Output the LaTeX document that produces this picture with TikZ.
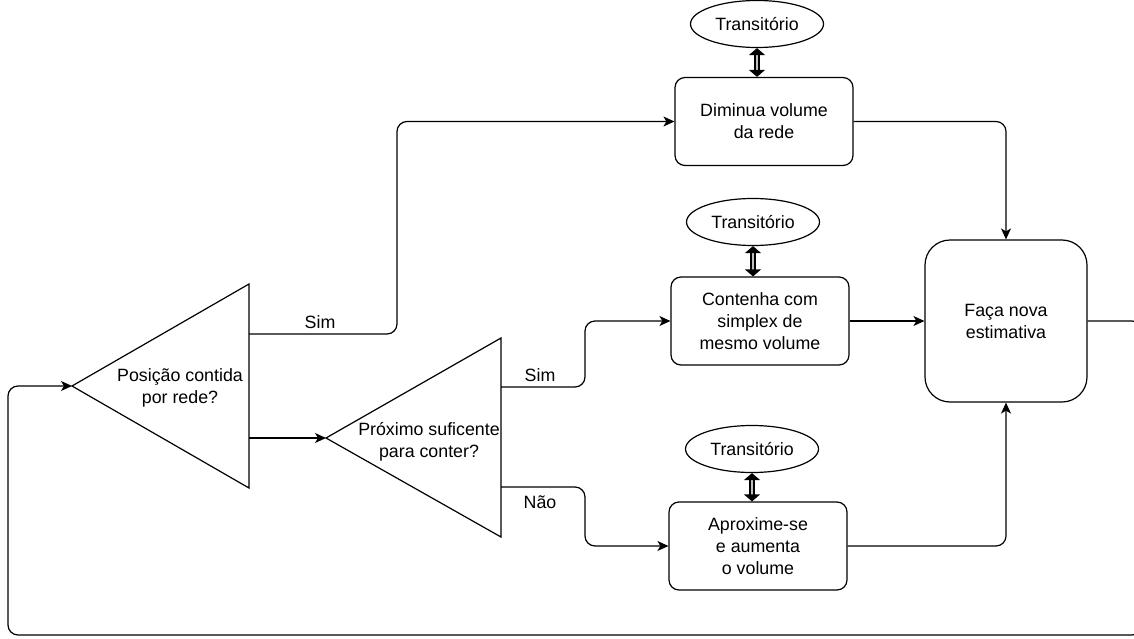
\documentclass[tikz,border=0pt]{standalone}
\usepackage{fontspec}
\setmainfont{Liberation Sans}
\usetikzlibrary{arrows.meta,shapes.geometric}

\tikzset{
	box/.style={draw, rounded corners=10, line width=1.2pt, minimum width=178, minimum height=88, align=center},
	trans/.style={draw, ellipse, line width=1.2pt, minimum width=133, minimum height=47, inner sep=0pt},
	shp/.style={line width=1.2pt, line join=miter},
	arr/.style={line width=1.2pt, rounded corners=10, -{Stealth[length=11pt, width=10pt, inset=3pt]}},
	dbl/.style={line width=1.3pt, double distance=2.6pt, double=gray!50, {Triangle[length=7pt, width=16pt]}-{Triangle[length=7pt, width=16pt]}}
}

\begin{document}
\begin{tikzpicture}[x=1pt, y=-1pt]
		\tikzstyle{every node}=[font=\fontsize{17.8}{22}\selectfont]
		\useasboundingbox (0,0) rectangle (1134,639);

		% Boxes on the right
		\node[box] (dim) at (764,121.5) {Diminua volume\\da rede};
		\node[box] (cont) at (760,321) {Contenha com\\simplex de\\mesmo volume};
		\node[box] (apr) at (758,546) {Aproxime-se\\e aumenta\\o volume};
		\node[box, rounded corners=25, minimum width=162, minimum height=162] (nova) at (1006,321) {Faça nova\\estimativa};

		% Transitorio ellipses
		\node[trans] (t1) at (757,24) {Transitório};
		\node[trans] (t2) at (753,222) {Transitório};
		\node[trans] (t3) at (752,449) {Transitório};
		\draw[dbl] (t1.south) -- (t1.south |- dim.north);
		\draw[dbl] (t2.south) -- (t2.south |- cont.north);
		\draw[dbl] (t3.south) -- (t3.south |- apr.north);

		% Triangles (decisions)
		\coordinate (q1tip) at (72,386);
		\coordinate (q1yes) at (249,334);
		\coordinate (q1no) at (249,438);
		\draw[shp] (q1tip) -- (249,284) -- (249,488) -- cycle;
		\node[align=center] (q1) at (180,388) {Posição contida\\por rede?};

		\coordinate (q2tip) at (326,438);
		\coordinate (q2yes) at (501,387);
		\coordinate (q2no) at (501,487);
		\draw[shp] (q2tip) -- (501,338) -- (501,537) -- cycle;
		\node[align=center] (q2) at (429,442) {Próximo suficente\\para conter?};

		% -----------------------------------------------------
		\draw[arr] (q1yes) -- (397,334) |- (dim.west);
		\node (sim1) at (320,322) {Sim};
		\draw[arr] (q1no) -- (q2tip);

		\draw[arr] (q2yes) -- (585,387) |- (cont.west);
		\node (sim2) at (540,375) {Sim};
		\draw[arr] (q2no) -- (585,487) |- (apr.west);
		\node (nao) at (540,502) {Não};

		\draw[arr] (dim.east) -| (nova.north);
		\draw[arr] (cont.east) -- (nova.west);
		\draw[arr] (apr.east) -| (nova.south);

		% loop back
		\draw[arr] (nova.east) -- (1142,321) -- (1142,635) -- (8,635) |- (q1tip);
\end{tikzpicture}
\end{document}
